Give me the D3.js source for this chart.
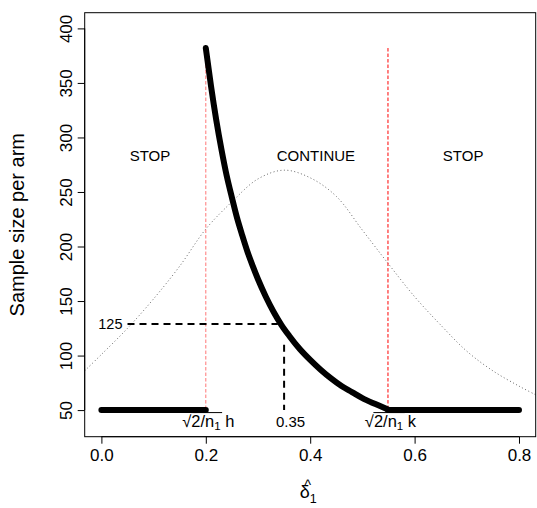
<!DOCTYPE html>
<html>
<head>
<meta charset="utf-8">
<script src="https://cdn.jsdelivr.net/npm/d3@7"></script>
<style>
  body { margin: 0; background: #fff; }
  text { font-family: "Liberation Sans", Arial, sans-serif; }
</style>
</head>
<body>
<div id="chart"></div>
<script>
// sample size curve inside the continue region
var curveDelta = [0.200, 0.210, 0.220, 0.230, 0.240, 0.250, 0.260, 0.270, 0.280, 0.290, 0.300,
                  0.315, 0.330, 0.345, 0.360, 0.380, 0.400, 0.420, 0.440, 0.460, 0.480, 0.500, 0.525, 0.549];
var curveN = [382, 347, 316, 289, 265, 245, 226, 210, 195, 182, 170,
              154, 140, 128, 118, 106, 96, 87, 79, 72, 66.5, 61, 55.5, 50.5];
// flat parts (stop regions)
var flatDelta = [[0, 0.2], [0.549, 0.8]];
var flatN = 50;
// dotted density-like curve
var densDelta = [-0.032, 0, 0.05, 0.10, 0.15, 0.20, 0.25, 0.30, 0.35, 0.40, 0.45, 0.50, 0.55, 0.60, 0.65, 0.70, 0.75, 0.80, 0.832];
var densVal = [86, 101, 125, 152, 182, 216, 241, 262, 270, 263, 246, 215, 184, 154, 128, 104, 86, 72, 64];
// boundaries
var boundDelta = [0.2, 0.549];
var boundTop = 382;
var boundNames = ["h", "k"];
var regionNames = ["STOP", "CONTINUE", "STOP"];
var regionDelta = [0.093, 0.411, 0.693];
var regionN = 278;
// reference point
var refDelta = 0.35, refN = 129, refLabel = "125", refDeltaLabel = "0.35";
var xTicks = [0, 0.2, 0.4, 0.6, 0.8];
var yTicks = [50, 100, 150, 200, 250, 300, 350, 400];

var width = 537, height = 508;
var pLeft = 84.7, pRight = 535.7, pTop = 12.7, pBottom = 436.7;

var svg = d3.select("#chart").append("svg")
    .attr("width", width)
    .attr("height", height);

var x = d3.scaleLinear().domain([-0.032, 0.832]).range([pLeft, pRight]);
var y = d3.scaleLinear().domain([25.6, 414.4]).range([pBottom, pTop]);

svg.append("clipPath").attr("id", "clip")
  .append("rect")
    .attr("x", pLeft).attr("y", pTop)
    .attr("width", pRight - pLeft).attr("height", pBottom - pTop);

var plot = svg.append("g").attr("clip-path", "url(#clip)");

// dotted curve
var dens = densDelta.map(function (d, i) { return [d, densVal[i]]; });
plot.append("path")
    .datum(dens)
    .attr("d", d3.line().x(function (d) { return x(d[0]); }).y(function (d) { return y(d[1]); })
        .curve(d3.curveCatmullRom))
    .attr("fill", "none")
    .attr("stroke", "#666")
    .attr("stroke-width", 1)
    .attr("stroke-dasharray", "1,2.5");

// red boundaries
plot.selectAll(".bound")
    .data(boundDelta)
    .enter().append("line")
    .attr("class", "bound")
    .attr("x1", function (d) { return x(d); })
    .attr("x2", function (d) { return x(d); })
    .attr("y1", y(boundTop))
    .attr("y2", y(flatN))
    .attr("stroke", function (d, i) { return i === 0 ? "#ff7777" : "red"; })
    .attr("stroke-width", 1)
    .attr("stroke-dasharray", "3.5,2");

// thick sample size line
var line = d3.line().x(function (d) { return x(d[0]); }).y(function (d) { return y(d[1]); });
var curvePts = curveDelta.map(function (d, i) { return [d, curveN[i]]; });
plot.append("path")
    .datum(curvePts)
    .attr("d", line.curve(d3.curveMonotoneX))
    .attr("fill", "none")
    .attr("stroke", "#000")
    .attr("stroke-width", 6)
    .attr("stroke-linecap", "round");
flatDelta.forEach(function (seg) {
  plot.append("path")
      .datum([[seg[0], flatN], [seg[1], flatN]])
      .attr("d", d3.line().x(function (d) { return x(d[0]); }).y(function (d) { return y(d[1]); }))
      .attr("stroke", "#000")
      .attr("stroke-width", 6)
      .attr("stroke-linecap", "round");
});

// dashed reference lines
var curveAt = function (v) {
  // delta where curve crosses value v
  for (var i = 1; i < curveN.length; i++) {
    if (curveN[i] <= v) {
      var t = (curveN[i - 1] - v) / (curveN[i - 1] - curveN[i]);
      return curveDelta[i - 1] + t * (curveDelta[i] - curveDelta[i - 1]);
    }
  }
};
plot.append("line")
    .attr("x1", x(0.05)).attr("x2", x(curveAt(refN)) - 3)
    .attr("y1", y(refN)).attr("y2", y(refN))
    .attr("stroke", "#000").attr("stroke-width", 2)
    .attr("stroke-dasharray", "7,5");
plot.append("line")
    .attr("x1", x(refDelta)).attr("x2", x(refDelta))
    .attr("y1", y(110)).attr("y2", y(flatN))
    .attr("stroke", "#000").attr("stroke-width", 2)
    .attr("stroke-dasharray", "7,5");

svg.append("text")
    .attr("x", x(0.05) - 5).attr("y", y(refN) + 5.5)
    .attr("text-anchor", "end")
    .attr("font-size", 14.5)
    .text(refLabel);
svg.append("text")
    .attr("x", x(refDelta) + 6.5).attr("y", y(flatN) + 16.5)
    .attr("text-anchor", "middle")
    .attr("font-size", 15)
    .text(refDeltaLabel);

// region labels
svg.selectAll(".region")
    .data(regionNames)
    .enter().append("text")
    .attr("class", "region")
    .attr("x", function (d, i) { return x(regionDelta[i]); })
    .attr("y", y(regionN))
    .attr("text-anchor", "middle")
    .attr("font-size", 15)
    .text(function (d) { return d; });

// sqrt(2/n1) labels
boundDelta.forEach(function (b, i) {
  var t = svg.append("text")
      .attr("y", y(flatN) + 17)
      .attr("font-size", 16.5);
  var s1 = t.append("tspan").text("\u221A");
  var s2 = t.append("tspan").text("2/n");
  var s3 = t.append("tspan").attr("font-size", 11.5).attr("dy", 3).text("1");
  var s4 = t.append("tspan").attr("dy", -3).text("\u00A0" + boundNames[i]);
  var w1 = s1.node().getComputedTextLength();
  var w2 = s2.node().getComputedTextLength();
  var w3 = s3.node().getComputedTextLength();
  var w4 = s4.node().getComputedTextLength();
  var total = w1 + w2 + w3 + w4;
  var x0 = x(b) + 2.5 - total / 2;
  t.attr("x", x0);
  svg.append("line")
      .attr("x1", x0 + w1 - 0.5).attr("x2", x0 + w1 + w2 + w3 + 1.5)
      .attr("y1", y(flatN) + 2.5).attr("y2", y(flatN) + 2.5)
      .attr("stroke", "#000").attr("stroke-width", 1);
});

// box
svg.append("rect")
    .attr("x", pLeft).attr("y", pTop)
    .attr("width", pRight - pLeft).attr("height", pBottom - pTop)
    .attr("fill", "none").attr("stroke", "#000").attr("stroke-width", 1);

// axes
var xAxis = svg.append("g")
    .attr("transform", "translate(0," + pBottom + ")")
    .call(d3.axisBottom(x).tickValues(xTicks).tickSize(7).tickPadding(5)
        .tickFormat(d3.format(".1f")));
xAxis.select(".domain").attr("d", "M" + x(0) + ",0H" + x(0.8));
xAxis.selectAll("text").attr("font-size", 17).attr("font-family", "Liberation Sans, Arial, sans-serif");

var yAxis = svg.append("g")
    .attr("transform", "translate(" + pLeft + ",0)")
    .call(d3.axisLeft(y).tickValues(yTicks).tickSize(7).tickFormat(d3.format("d")));
yAxis.select(".domain").attr("d", "M0," + y(50) + "V" + y(400));
yAxis.selectAll("text")
    .attr("font-size", 17)
    .attr("font-family", "Liberation Sans, Arial, sans-serif")
    .attr("text-anchor", "middle")
    .attr("x", 0).attr("dy", 0)
    .attr("transform", "translate(-13,0) rotate(-90)");

// axis titles
svg.append("text")
    .attr("transform", "translate(24," + ((pTop + pBottom) / 2) + ") rotate(-90)")
    .attr("text-anchor", "middle")
    .attr("font-size", 20)
    .text("Sample size per arm");

var xl = svg.append("text")
    .attr("x", x(0.4) - 2)
    .attr("y", 498)
    .attr("text-anchor", "middle")
    .attr("font-size", 18);
xl.append("tspan").text("\u03B4");
xl.append("tspan").attr("font-size", 12.5).attr("dy", 5).text("1");
svg.append("text")
    .attr("x", x(0.4) - 2.5)
    .attr("y", 490)
    .attr("text-anchor", "middle")
    .attr("font-size", 14)
    .text("^");
</script>
</body>
</html>
